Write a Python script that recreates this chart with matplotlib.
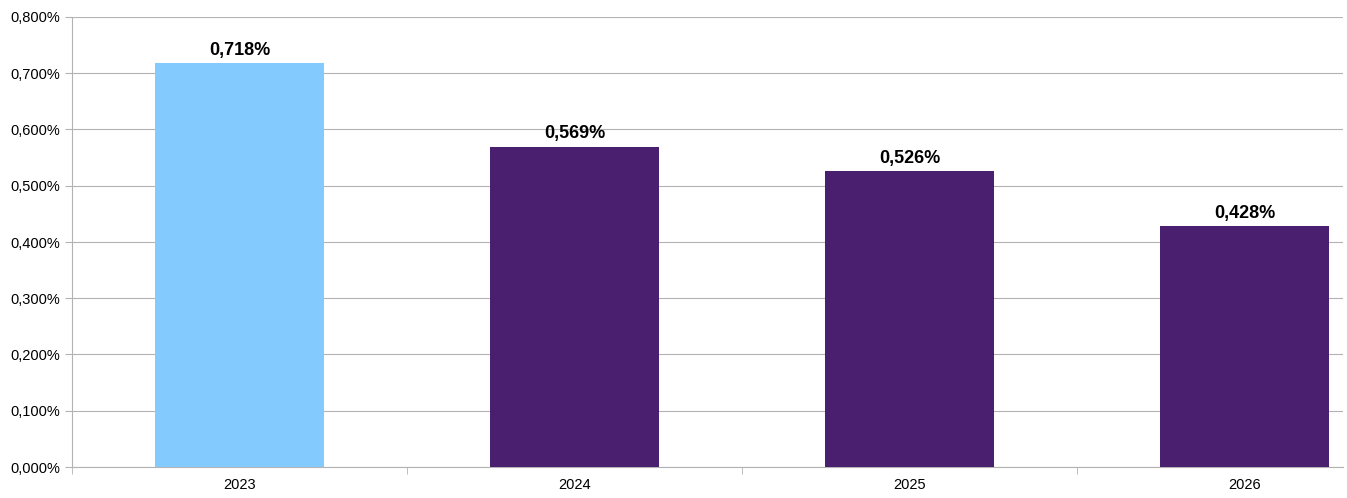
import matplotlib
matplotlib.use("Agg")
import matplotlib.pyplot as plt
from matplotlib.ticker import FuncFormatter, MultipleLocator, FixedLocator

plt.rcParams["font.family"] = ["Liberation Sans", "DejaVu Sans"]

years = ["2023", "2024", "2025", "2026"]
values = [0.718, 0.569, 0.526, 0.428]
colors = ["#83CAFF", "#4B1F6F", "#4B1F6F", "#4B1F6F"]

W, H = 1347, 498
fig = plt.figure(figsize=(W / 100, H / 100), dpi=100)
ax = fig.add_axes([72 / W, (H - 467) / H, (1343 - 72) / W, (467 - 17) / H])

x = list(range(len(years)))
ax.bar(x, values, width=0.505, color=colors, zorder=3)
for xi, v in zip(x, values):
    ax.text(xi, v + 0.008, "{:.3f}%".format(v).replace(".", ","),
            ha="center", va="bottom", fontsize=13, fontweight="bold")

ax.set_xlim(-0.5, 3.294)
ax.set_ylim(0, 0.8)
ax.yaxis.set_major_locator(MultipleLocator(0.1))
ax.yaxis.set_major_formatter(FuncFormatter(lambda v, p: "{:.3f}%".format(v).replace(".", ",")))
ax.grid(axis="y", color="#b3b3b3", linewidth=0.8, zorder=0)

ax.set_xticks(x)
ax.set_xticklabels(years)
ax.xaxis.set_minor_locator(FixedLocator([i - 0.5 for i in range(len(years))]))
ax.tick_params(axis="x", which="major", length=0, labelsize=10.5, pad=8)
ax.tick_params(axis="x", which="minor", length=5, color="#b3b3b3")
ax.tick_params(axis="y", length=5, color="#b3b3b3", labelsize=10.5)

for s in ["top", "right"]:
    ax.spines[s].set_visible(False)
for s in ["left", "bottom"]:
    ax.spines[s].set_color("#b3b3b3")

fig.savefig("out.png", dpi=100)
